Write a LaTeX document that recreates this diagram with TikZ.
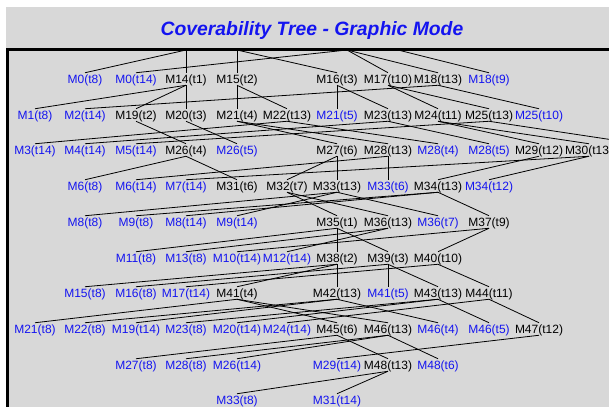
\documentclass[tikz,border=0pt]{standalone}
\usepackage{fontspec}
\setmainfont{Liberation Sans}
\definecolor{panel}{RGB}{216,216,216}
\definecolor{oldblue}{RGB}{20,20,240}
\tikzset{
    mk/.style = {inner sep=0pt, text height=7.7pt, text depth=1.3pt, font=\fontsize{9pt}{10pt}\selectfont},
    old/.style = {mk, text=oldblue},
    link/.style = {line width=0.6pt}
}

\begin{document}
\begin{tikzpicture}[x=0.75pt, y=-0.75pt]
    \useasboundingbox (0,0) rectangle (609,407);
    \fill[white] (0,0) rectangle (609,407);
    \fill[panel] (6,7) rectangle (609,407);
    \node[text=oldblue, font=\fontsize{14.5pt}{16pt}\selectfont\bfseries\itshape] (title) at (312,31) {Coverability Tree - Graphic Mode};

    % where the edges of the hidden top level come in
    \coordinate (ta) at (186,50);
    \coordinate (tb) at (237,50);
    \coordinate (tc) at (347,50);
    \coordinate (td) at (398,50);
    % node scrolled out on the right
    \coordinate (ra) at (640,144);

    % level 1
    \node[old] (m0t8) at (85,79) {M0(t8)};
    \node[old] (m0t14) at (136,79) {M0(t14)};
    \node[mk] (m14t1) at (186,79) {M14(t1)};
    \node[mk] (m15t2) at (237,79) {M15(t2)};
    \node[mk] (m16t3) at (337,79) {M16(t3)};
    \node[mk] (m17t10) at (388,79) {M17(t10)};
    \node[mk] (m18t13) at (438,79) {M18(t13)};
    \node[old] (m18t9) at (489,79) {M18(t9)};
    % level 2
    \node[old] (m1t8) at (35,115) {M1(t8)};
    \node[old] (m2t14) at (85,115) {M2(t14)};
    \node[mk] (m19t2) at (136,115) {M19(t2)};
    \node[mk] (m20t3) at (186,115) {M20(t3)};
    \node[mk] (m21t4) at (237,115) {M21(t4)};
    \node[mk] (m22t13) at (287,115) {M22(t13)};
    \node[old] (m21t5) at (337,115) {M21(t5)};
    \node[mk] (m23t13) at (388,115) {M23(t13)};
    \node[mk] (m24t11) at (438,115) {M24(t11)};
    \node[mk] (m25t13) at (489,115) {M25(t13)};
    \node[old] (m25t10) at (539,115) {M25(t10)};
    % level 3
    \node[old] (m3t14) at (35,150) {M3(t14)};
    \node[old] (m4t14) at (85,150) {M4(t14)};
    \node[old] (m5t14) at (136,150) {M5(t14)};
    \node[mk] (m26t4) at (186,150) {M26(t4)};
    \node[old] (m26t5) at (237,150) {M26(t5)};
    \node[mk] (m27t6) at (337,150) {M27(t6)};
    \node[mk] (m28t13) at (388,150) {M28(t13)};
    \node[old] (m28t4) at (438,150) {M28(t4)};
    \node[old] (m28t5) at (489,150) {M28(t5)};
    \node[mk] (m29t12) at (539,150) {M29(t12)};
    \node[mk] (m30t13) at (589,150) {M30(t13)};
    % level 4
    \node[old] (m6t8) at (85,186) {M6(t8)};
    \node[old] (m6t14) at (136,186) {M6(t14)};
    \node[old] (m7t14) at (186,186) {M7(t14)};
    \node[mk] (m31t6) at (237,186) {M31(t6)};
    \node[mk] (m32t7) at (287,186) {M32(t7)};
    \node[mk] (m33t13) at (337,186) {M33(t13)};
    \node[old] (m33t6) at (388,186) {M33(t6)};
    \node[mk] (m34t13) at (438,186) {M34(t13)};
    \node[old] (m34t12) at (489,186) {M34(t12)};
    % level 5
    \node[old] (m8t8) at (85,222) {M8(t8)};
    \node[old] (m9t8) at (136,222) {M9(t8)};
    \node[old] (m8t14) at (186,222) {M8(t14)};
    \node[old] (m9t14) at (237,222) {M9(t14)};
    \node[mk] (m35t1) at (337,222) {M35(t1)};
    \node[mk] (m36t13) at (388,222) {M36(t13)};
    \node[old] (m36t7) at (438,222) {M36(t7)};
    \node[mk] (m37t9) at (489,222) {M37(t9)};
    % level 6
    \node[old] (m11t8) at (136,258) {M11(t8)};
    \node[old] (m13t8) at (186,258) {M13(t8)};
    \node[old] (m10t14) at (237,258) {M10(t14)};
    \node[old] (m12t14) at (287,258) {M12(t14)};
    \node[mk] (m38t2) at (337,258) {M38(t2)};
    \node[mk] (m39t3) at (388,258) {M39(t3)};
    \node[mk] (m40t10) at (438,258) {M40(t10)};
    % level 7
    \node[old] (m15t8) at (85,293) {M15(t8)};
    \node[old] (m16t8) at (136,293) {M16(t8)};
    \node[old] (m17t14) at (186,293) {M17(t14)};
    \node[mk] (m41t4) at (237,293) {M41(t4)};
    \node[mk] (m42t13) at (337,293) {M42(t13)};
    \node[old] (m41t5) at (388,293) {M41(t5)};
    \node[mk] (m43t13) at (438,293) {M43(t13)};
    \node[mk] (m44t11) at (489,293) {M44(t11)};
    % level 8
    \node[old] (m21t8) at (35,329) {M21(t8)};
    \node[old] (m22t8) at (85,329) {M22(t8)};
    \node[old] (m19t14) at (136,329) {M19(t14)};
    \node[old] (m23t8) at (186,329) {M23(t8)};
    \node[old] (m20t14) at (237,329) {M20(t14)};
    \node[old] (m24t14) at (287,329) {M24(t14)};
    \node[mk] (m45t6) at (337,329) {M45(t6)};
    \node[mk] (m46t13) at (388,329) {M46(t13)};
    \node[old] (m46t4) at (438,329) {M46(t4)};
    \node[old] (m46t5) at (489,329) {M46(t5)};
    \node[mk] (m47t12) at (539,329) {M47(t12)};
    % level 9
    \node[old] (m27t8) at (136,365) {M27(t8)};
    \node[old] (m28t8) at (186,365) {M28(t8)};
    \node[old] (m26t14) at (237,365) {M26(t14)};
    \node[old] (m29t14) at (337,365) {M29(t14)};
    \node[mk] (m48t13) at (388,365) {M48(t13)};
    \node[old] (m48t6) at (438,365) {M48(t6)};
    % level 10
    \node[old] (m33t8) at (237,400) {M33(t8)};
    \node[old] (m31t14) at (337,400) {M31(t14)};

    % edges
    \draw[link] (ta) -- (m0t8.north);
    \draw[link] (ta) -- (m14t1.north);
    \draw[link] (tb) -- (m15t2.north);
    \draw[link] (tb) -- (m16t3.north);
    \draw[link] (tc) -- (m0t14.north);
    \draw[link] (tc) -- (m17t10.north);
    \draw[link] (tc) -- (m18t13.north);
    \draw[link] (td) -- (m18t9.north);

    \draw[link] (m14t1.south) -- (m1t8.north);
    \draw[link] (m14t1.south) -- (m19t2.north);
    \draw[link] (m14t1.south) -- (m20t3.north);
    \draw[link] (m15t2.south) -- (m21t4.north);
    \draw[link] (m15t2.south) -- (m22t13.north);
    \draw[link] (m16t3.south) -- (m21t5.north);
    \draw[link] (m16t3.south) -- (m23t13.north);
    \draw[link] (m17t10.south) -- (m24t11.north);
    \draw[link] (m17t10.south) -- (m25t13.north);
    \draw[link] (m18t13.south) -- (m25t10.north);
    \draw[link] (m18t13.south) -- (m2t14.north);

    \draw[link] (m19t2.south) -- (m26t4.north);
    \draw[link] (m20t3.south) -- (m26t5.north);
    \draw[link] (m21t4.south) -- (m27t6.north);
    \draw[link] (m21t4.south) -- (m28t13.north);
    \draw[link] (m22t13.south) -- (m28t4.north);
    \draw[link] (m22t13.south) -- (m3t14.north);
    \draw[link] (m23t13.south) -- (m28t5.north);
    \draw[link] (m23t13.south) -- (m4t14.north);
    \draw[link] (m24t11.south) -- (m29t12.north);
    \draw[link] (m24t11.south) -- (m30t13.north);
    \draw[link] (m25t13.south) -- (m5t14.north);
    \draw[link] (m25t13.south) -- (ra);

    \draw[link] (m26t4.south) -- (m6t8.north);
    \draw[link] (m26t4.south) -- (m31t6.north);
    \draw[link] (m27t6.south) -- (m32t7.north);
    \draw[link] (m27t6.south) -- (m33t13.north);
    \draw[link] (m28t13.south) -- (m33t6.north);
    \draw[link] (m28t13.south) -- (m6t14.north);
    \draw[link] (m29t12.south) -- (m34t13.north);
    \draw[link] (m30t13.south) -- (m34t12.north);
    \draw[link] (m30t13.south) -- (m7t14.north);

    \draw[link] (m32t7.south) -- (m35t1.north);
    \draw[link] (m32t7.south) -- (m36t13.north);
    \draw[link] (m33t13.south) -- (m36t7.north);
    \draw[link] (m33t13.south) -- (m8t8.north);
    \draw[link] (m33t13.south) -- (m9t14.north);
    \draw[link] (m34t13.south) -- (m37t9.north);
    \draw[link] (m34t13.south) -- (m9t8.north);
    \draw[link] (m34t13.south) -- (m8t14.north);

    \draw[link] (m35t1.south) -- (m38t2.north);
    \draw[link] (m35t1.south) -- (m39t3.north);
    \draw[link] (m35t1.south) -- (m11t8.north);
    \draw[link] (m36t13.south) -- (m12t14.north);
    \draw[link] (m36t13.south) -- (m13t8.north);
    \draw[link] (m37t9.south) -- (m40t10.north);
    \draw[link] (m37t9.south) -- (m10t14.north);

    \draw[link] (m38t2.south) -- (m41t4.north);
    \draw[link] (m38t2.south) -- (m42t13.north);
    \draw[link] (m38t2.south) -- (m15t8.north);
    \draw[link] (m39t3.south) -- (m41t5.north);
    \draw[link] (m39t3.south) -- (m43t13.north);
    \draw[link] (m39t3.south) -- (m16t8.north);
    \draw[link] (m40t10.south) -- (m44t11.north);
    \draw[link] (m40t10.south) -- (m17t14.north);

    \draw[link] (m41t4.south) -- (m45t6.north);
    \draw[link] (m41t4.south) -- (m46t13.north);
    \draw[link] (m41t4.south) -- (m21t8.north);
    \draw[link] (m42t13.south) -- (m46t4.north);
    \draw[link] (m42t13.south) -- (m22t8.north);
    \draw[link] (m42t13.south) -- (m19t14.north);
    \draw[link] (m43t13.south) -- (m46t5.north);
    \draw[link] (m43t13.south) -- (m23t8.north);
    \draw[link] (m43t13.south) -- (m20t14.north);
    \draw[link] (m44t11.south) -- (m47t12.north);
    \draw[link] (m44t11.south) -- (m24t14.north);

    \draw[link] (m45t6.south) -- (m48t13.north);
    \draw[link] (m45t6.south) -- (m27t8.north);
    \draw[link] (m46t13.south) -- (m48t6.north);
    \draw[link] (m46t13.south) -- (m28t8.north);
    \draw[link] (m46t13.south) -- (m26t14.north);
    \draw[link] (m47t12.south) -- (m29t14.north);

    \draw[link] (m48t13.south) -- (m33t8.north);
    \draw[link] (m48t13.south) -- (m31t14.north);

    % frame of the drawing area
    \draw[line width=1.9pt] (6,49.5) -- (609,49.5);
    \draw[line width=2.2pt] (7.5,48.5) -- (7.5,407);
\end{tikzpicture}
\end{document}
